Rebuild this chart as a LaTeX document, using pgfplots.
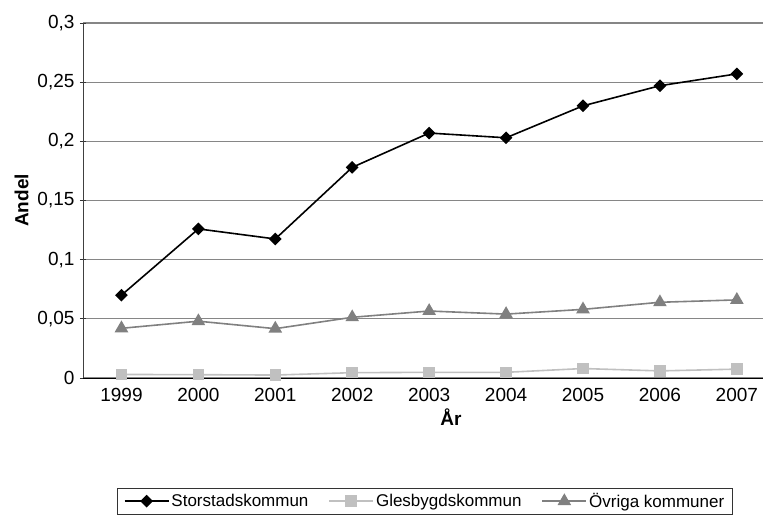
\documentclass[border=0pt]{standalone}
\usepackage{fontspec}
\setmainfont{Liberation Sans}
\usepackage{pgfplots}
\pgfplotsset{compat=1.18}
\definecolor{gridgray}{RGB}{134,134,134}
\definecolor{midgray}{RGB}{128,128,128}
\definecolor{lightgray}{RGB}{192,192,192}

\begin{document}
\begin{tikzpicture}
  \useasboundingbox (0pt,0pt) rectangle (763pt,515pt);
  \begin{axis}[
      at={(83pt,137pt)}, anchor=south west,
      scale only axis,
      width=680pt, height=355pt,
      xmin=-0.5, xmax=8.34,
      ymin=0, ymax=0.3,
      ytick={0,0.05,0.1,0.15,0.2,0.25,0.3},
      yticklabels={0,{0,05},{0,1},{0,15},{0,2},{0,25},{0,3}},
      xtick={0,...,8},
      xticklabels={1999,2000,2001,2002,2003,2004,2005,2006,2007},
      minor xtick={-0.5,0.5,...,7.5},
      xtick style={draw=none},
      minor x tick style={black, line width=0.8pt},
      minor tick length=6pt,
      major tick length=6pt,
      tick align=outside,
      ytick style={black!80, line width=0.8pt},
      axis x line=bottom, axis y line=left,
      x axis line style={-, black, line width=1pt},
      y axis line style={-, black!75, line width=1pt},
      ymajorgrids,
      grid style={gridgray, line width=1.3pt},
      tick label style={font=\fontsize{19}{22}\selectfont},
      xticklabel style={yshift=-4pt},
      yticklabel style={xshift=-2pt},
      xlabel={\textbf{År}},
      ylabel={\textbf{Andel}},
      label style={font=\fontsize{19}{22}\selectfont},
      xlabel style={yshift=0pt, xshift=28pt},
      ylabel style={yshift=2pt},
      legend columns=3,
      legend style={at={(axis description cs:0.503,-0.347)}, anchor=center,
        draw=black!80, line width=0.8pt, font=\fontsize{17}{20}\selectfont,
        inner xsep=6pt, inner ysep=3pt,
        /tikz/every even column/.append style={column sep=18pt}},
      legend image code/.code={
        \draw[mark repeat=2, mark phase=2] plot coordinates {(0pt,0pt) (22pt,0pt) (44pt,0pt)};
      },
    ]
    \addplot[black, line width=1.6pt, mark=square*, mark size=3.7pt,
      mark options={solid, fill=black, rotate=45}] coordinates {
      (0,0.070) (1,0.126) (2,0.1175) (3,0.178) (4,0.207)
      (5,0.203) (6,0.230) (7,0.247) (8,0.257)
    };
    \addlegendentry{Storstadskommun}
    \addplot[lightgray, line width=1.6pt, mark=square*, mark size=5pt,
      mark options={solid, fill=lightgray}] coordinates {
      (0,0.003) (1,0.0028) (2,0.0025) (3,0.0045) (4,0.0048)
      (5,0.0048) (6,0.008) (7,0.006) (8,0.0075)
    };
    \addlegendentry{Glesbygdskommun}
    \addplot[midgray, line width=1.6pt, mark=triangle*, mark size=6.3pt,
      mark options={solid, fill=midgray}] coordinates {
      (0,0.042) (1,0.048) (2,0.0417) (3,0.0513) (4,0.0566)
      (5,0.054) (6,0.058) (7,0.064) (8,0.066)
    };
    \addlegendentry{Övriga kommuner}
  \end{axis}
\end{tikzpicture}
\end{document}
